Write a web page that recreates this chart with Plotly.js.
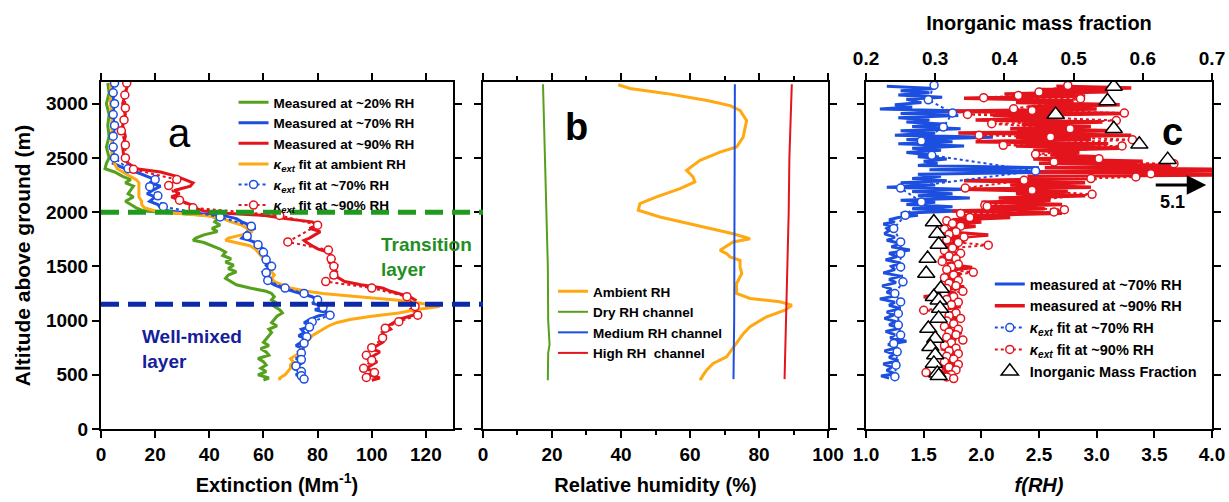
<!DOCTYPE html>
<html>
<head>
<meta charset="utf-8">
<script src="https://cdn.plot.ly/plotly-3.0.1.min.js"></script>
<style>html,body{margin:0;padding:0;background:#fff}</style>
</head>
<body>
<div id="chart" style="width:1229px;height:502px"></div>
<script>
// ---------- Panel a: extinction profiles ----------
const altA = [3190,3100,3000,2900,2800,2700,2600,2500,2450,2400,2370,2330,2300,2270,2240,2200,2170,2140,2100,2070,2040,2010,1990,1970,1940,1910,1880,1850,1820,1790,1760,1740,1720,1690,1660,1630,1600,1570,1540,1510,1480,1450,1420,1390,1360,1330,1300,1270,1250,1220,1190,1160,1130,1100,1070,1040,1010,980,950,920,890,860,830,800,770,740,710,680,650,620,590,560,530,500,470,450];
const ext20 = [2.5,3,2,3,2.5,3,2,3,2,1.5,5,8,11,9,12,11,10,12,9,11,13,16,28,40,43,42,44,41,43,38,35,34,38,41,44,46,45,48,46,49,47,50,47,46,48,50,55,61,63,64,63,65,64,66,67,65,64,63,65,62,63,62,61,60,62,59,61,62,58,60,61,59,61,58,62,60];
const ext70 = [4.5,4,5,4,5,4.5,4,5,4.5,9,13,17,20,18,22,19,17,20,18,21,22,25,33,45,50,52,55,57,54,53,52,55,57,58,60,59,61,60,62,61,62,60,62,61,62,64,67,71,74,78,80,78,83,79,84,80,77,75,78,74,75,73,76,74,72,75,73,74,72,75,73,71,74,72,76,74];
const ext90 = [10,9,8,9,8,9,8,8.5,10,13,22,28,31,34,33,27,29,26,30,33,34,38,46,60,68,78,80,77,81,79,77,75,76,78,80,84,85,86,84,87,86,87,86,88,90,96,104,107,110,114,116,115,117,114,118,114,110,108,106,107,104,105,103,104,102,100,103,101,99,102,100,98,101,99,103,100];
const extAmb = [3.5,3.5,3.5,4,4,4,4,4,5,6,8,11,13,14,14,14,14,14,15,15,16,20,28,38,45,48,52,54,56,52,47,46,50,55,57,58,59,60,62,62,63,63,64,63,64,67,70,76,82,95,109,118,125,116,110,100,92,87,84,82,80,78,77,76,75,74,74,72,70,71,70,70,69,68,66,66];
const fitAltA70 = [3190,3100,3000,2900,2800,2700,2600,2500,2400,2300,2235,2150,2050,1955,1870,1780,1700,1630,1560,1500,1440,1370,1300,1250,1190,1120,1050,990,940,850,790,700,640,580,530,490,460];
const fitA70 = [5,4.5,5,4.5,5,4.5,4.5,5,10,20,18,21,23,44,55.5,54,58,60,61,63,61,61.6,68,75,80,82,84.6,78,77,76,75,74,74,72,74,74,75];
const fitAltA90 = [3190,3080,2960,2850,2750,2620,2500,2395,2300,2245,2110,2040,1970,1880,1725,1650,1570,1500,1420,1360,1300,1220,1130,1050,990,930,840,750,680,635,560,520,475];
const fitA90 = [9.5,8.8,9,8.5,7.5,9,9,12,28,25,29,34,66,80,69,84,85,86,86,83,100,113,116,117,110,105,104,100,98,100,97,101,98];

// ---------- Panel b: relative humidity ----------
const altAmb = [3175,3140,3095,3030,2982,2937,2845,2692,2600,2554,2477,2385,2324,2278,2216,2140,2078,2017,1955,1878,1801,1755,1725,1648,1618,1587,1556,1495,1434,1342,1250,1204,1173,1142,1096,1035,943,881,789,666,605,543,497,451];
const rhAmb = [39.2,42.6,53,65,71.6,74.5,76.4,75.4,73.5,68.7,62.9,59,60.9,61.4,57.1,50.3,45.5,45,51.3,61.9,72.5,77.4,72.5,68.7,70.6,71.6,74.5,74.5,75,73.5,73.5,77.4,86,89.5,87.5,82.2,77.4,75.5,73.5,70.6,66.7,64.8,63.8,62.9];
const altDry = [3180,2900,2700,2400,2200,2000,1800,1500,1000,850,780,700,450];
const rhDry = [17.4,17.6,17.8,18.0,18.2,18.4,18.6,18.8,18.9,19.3,19.3,18.9,18.8];
const altMed = [3180,2000,1000,460];
const rhMed = [73.0,73.0,72.8,72.6];
const altHigh = [3180,3000,2800,2500,2000,1600,1200,800,460];
const rhHigh = [89.5,89.3,89.0,88.8,88.6,88.3,88.0,87.8,87.4];

// ---------- Panel c: f(RH) ----------
const altC70 = [3160,3140,3120,3100,3080,3060,3040,3010,2990,2970,2950,2930,2910,2890,2870,2850,2830,2810,2790,2770,2750,2730,2710,2690,2670,2650,2630,2610,2590,2570,2550,2530,2510,2490,2470,2450,2430,2410,2390,2370,2350,2330,2310,2290,2270,2250,2230,2210,2190,2170,2150,2130,2110,2090,2070,2050,2030,2010,1990,1970,1950,1930,1910,1890,1870,1850,1830,1800,1770,1740,1710,1680,1650,1620,1590,1560,1530,1500,1470,1440,1410,1380,1350,1320,1290,1260,1230,1200,1170,1140,1110,1080,1050,1020,990,960,930,900,870,840,810,780,750,720,690,660,630,600,570,540,510,490,470];
const fRH70 = [1.18,1.60,1.30,1.55,1.28,1.66,1.35,1.48,1.25,1.40,1.12,1.95,1.30,1.80,1.28,1.55,1.35,1.70,1.40,1.82,1.30,1.60,1.25,2.10,1.35,1.75,1.28,1.85,1.40,1.65,1.35,1.55,1.45,1.70,1.50,1.62,1.45,2.50,1.55,2.74,1.45,1.65,1.40,1.70,1.30,1.60,1.18,1.85,1.40,1.75,1.45,1.90,1.30,1.60,1.35,1.75,1.40,1.80,1.30,1.45,1.28,1.20,1.25,1.15,1.22,1.18,1.20,1.16,1.25,1.18,1.30,1.22,1.38,1.20,1.27,1.17,1.30,1.22,1.25,1.15,1.30,1.20,1.26,1.14,1.22,1.18,1.27,1.12,1.25,1.20,1.30,1.18,1.24,1.16,1.26,1.20,1.30,1.17,1.25,1.21,1.35,1.19,1.27,1.16,1.24,1.20,1.28,1.15,1.22,1.18,1.25,1.13,1.20];
const altC90 = [3160,3145,3130,3110,3090,3070,3050,3030,3010,2990,2970,2950,2930,2910,2890,2870,2850,2830,2810,2790,2770,2750,2730,2710,2690,2670,2650,2630,2610,2590,2570,2550,2530,2510,2490,2470,2450,2430,2410,2390,2370,2350,2330,2310,2290,2270,2250,2230,2210,2190,2170,2150,2130,2110,2090,2070,2050,2030,2010,1990,1970,1950,1930,1910,1890,1870,1850,1820,1790,1760,1730,1700,1670,1640,1610,1580,1550,1520,1490,1460,1430,1400,1370,1340,1310,1280,1250,1220,1190,1160,1130,1100,1070,1040,1010,980,950,920,890,860,830,800,770,740,710,680,650,620,590,560,530,500,480,460];
const fRH90 = [2.65,3.30,2.50,3.10,2.20,2.90,1.85,2.80,2.30,3.20,2.40,3.00,1.70,3.25,2.10,2.70,1.95,3.05,2.35,2.95,2.25,3.15,1.80,3.30,2.30,2.95,1.95,3.10,2.30,3.20,2.45,2.85,2.60,3.00,2.45,3.40,2.50,3.67,2.55,4.60,2.50,5.10,2.40,3.00,1.85,2.90,2.25,2.95,1.85,2.75,2.30,2.90,2.15,2.60,2.00,2.70,2.05,2.55,1.75,2.70,1.85,2.25,1.75,2.00,1.70,1.95,1.75,1.68,2.06,1.70,1.85,1.66,1.80,1.68,1.75,1.64,1.78,1.70,1.92,1.68,1.82,1.65,1.76,1.70,1.85,1.66,1.78,1.50,1.73,1.68,1.82,1.65,1.76,1.70,1.80,1.66,1.75,1.68,1.83,1.67,1.78,1.70,1.75,1.65,1.80,1.68,1.76,1.70,1.82,1.66,1.74,1.55,1.72,1.68];
const fitAltC70 = [3170,3036,2915,2784,2655,2524,2380,2222,2094,1971,1848,1725,1618,1495,1357,1249,1172,1065,958,866,789,712,589,482];
const fitC70 = [1.59,1.54,1.75,1.67,1.48,1.57,2.47,1.30,1.48,1.34,1.24,1.30,1.30,1.30,1.32,1.25,1.30,1.28,1.28,1.30,1.24,1.27,1.26,1.25];
const fitAltC90 = [3168,3107,3076,3055,3046,2953,2938,2913,2901,2845,2815,2769,2708,2693,2668,2616,2610,2533,2493,2462,2447,2355,2324,2309,2293,2222,2201,2164,2063,2054,2023,2002,1987,1950,1920,1895,1870,1845,1820,1795,1770,1745,1720,1695,1670,1645,1620,1595,1570,1545,1520,1495,1470,1445,1420,1395,1370,1345,1320,1295,1270,1245,1220,1195,1170,1145,1120,1095,1070,1045,1020,995,970,945,920,895,870,845,820,795,770,745,720,695,670,645,620,595,570,545,520,500,480,465];
const fitC90 = [2.75,2.50,2.32,2.02,2.86,2.28,2.44,3.24,1.88,3.17,2.09,2.77,1.98,2.60,3.31,2.19,3.22,2.47,3.02,2.63,3.67,3.47,3.34,2.95,2.37,1.86,2.44,2.96,2.03,2.05,2.72,2.63,1.82,1.90,1.70,1.75,1.82,1.68,1.78,1.72,1.85,1.70,1.80,2.06,1.75,1.68,1.82,1.72,1.78,1.66,1.80,1.74,1.70,1.93,1.76,1.68,1.80,1.72,1.78,1.70,1.84,1.68,1.76,1.70,1.80,1.74,1.68,1.50,1.78,1.72,1.82,1.70,1.76,1.68,1.80,1.72,1.78,1.70,1.84,1.74,1.68,1.78,1.72,1.80,1.70,1.76,1.68,1.80,1.72,1.78,1.52,1.74,1.70,1.76];
const imfAlt = [3159,3024,2901,2769,2625,2484,1909,1802,1701,1572,1434,1296,1219,1188,1112,1020,927,835,758,682,605,513,490];
const imf = [0.558,0.549,0.474,0.558,0.595,0.636,0.298,0.303,0.305,0.289,0.287,0.308,0.298,0.305,0.307,0.305,0.290,0.300,0.293,0.300,0.298,0.303,0.305];

const xTicksA = [0,20,40,60,80,100,120];
const xTicksB = [0,20,40,60,80,100];
const xTicksC = [1.0,1.5,2.0,2.5,3.0,3.5,4.0];
const xTicksTop = [0.2,0.3,0.4,0.5,0.6,0.7];
const yTicks = [0,500,1000,1500,2000,2500,3000];

const FAM = 'Liberation Sans, Arial, sans-serif';
const GREEN = '#55a01c', BLUE = '#1c4ee0', RED = '#e3141c', ORANGE = '#ffa812';

function line(x, y, color, name, xa, ya, lg, w) {
  return {x:x, y:y, type:'scatter', mode:'lines', name:name, xaxis:xa, yaxis:ya, legend:lg,
          line:{color:color, width:w||3}};
}
function fit(x, y, color, name, xa, ya, lg) {
  return {x:x, y:y, type:'scatter', mode:'lines+markers', name:name, xaxis:xa, yaxis:ya, legend:lg,
          line:{color:color, width:2, dash:'dot'},
          marker:{symbol:'circle', size:8, color:'white', line:{color:color, width:1.5}}};
}
const kx = '<i>κ<sub>ext</sub></i>';
const traces = [
  line(ext20, altA, GREEN, '<b>Measured at ~20% RH</b>', 'x', 'y', 'legend'),
  line(ext70, altA, BLUE, '<b>Measured at ~70% RH</b>', 'x', 'y', 'legend'),
  line(ext90, altA, RED, '<b>Measured at ~90% RH</b>', 'x', 'y', 'legend'),
  line(extAmb, altA, ORANGE, '<b>'+kx+' fit at ambient RH</b>', 'x', 'y', 'legend', 3),
  fit(fitA70, fitAltA70, BLUE, '<b>'+kx+' fit at ~70% RH</b>', 'x', 'y', 'legend'),
  fit(fitA90, fitAltA90, RED, '<b>'+kx+' fit at ~90% RH</b>', 'x', 'y', 'legend'),

  line(rhAmb, altAmb, ORANGE, '<b>Ambient RH</b>', 'x2', 'y2', 'legend2', 3),
  line(rhDry, altDry, GREEN, '<b>Dry RH channel</b>', 'x2', 'y2', 'legend2', 2),
  line(rhMed, altMed, BLUE, '<b>Medium RH channel</b>', 'x2', 'y2', 'legend2', 2),
  line(rhHigh, altHigh, RED, '<b>High RH  channel</b>', 'x2', 'y2', 'legend2', 2),

  line(fRH70, altC70, BLUE, '<b>measured at ~70% RH</b>', 'x3', 'y3', 'legend3', 3),
  line(fRH90, altC90, RED, '<b>measured at ~90% RH</b>', 'x3', 'y3', 'legend3', 3.5),
  fit(fitC70, fitAltC70, BLUE, '<b>'+kx+' fit at ~70% RH</b>', 'x3', 'y3', 'legend3'),
  fit(fitC90, fitAltC90, RED, '<b>'+kx+' fit at ~90% RH</b>', 'x3', 'y3', 'legend3'),
  {x:imf, y:imfAlt, type:'scatter', mode:'markers', name:'<b>Inorganic Mass Fraction</b>', xaxis:'x4', yaxis:'y3', legend:'legend3',
   marker:{symbol:'triangle-up', size:15, color:'white', line:{color:'black', width:1.5}}}
];

const tf = {family:FAM, size:19, weight:'bold', color:'black'};
const titleFont = {family:FAM, size:20, weight:'bold', color:'black'};
const ax = {showline:true, linewidth:2, linecolor:'black', ticks:'outside', ticklen:7, tickwidth:2, tickcolor:'black',
            mirror:'ticks', showgrid:false, zeroline:false, tickfont:tf};
const lgBase = {bgcolor:'rgba(0,0,0,0)', borderwidth:0, xanchor:'left', yanchor:'top', itemwidth:30, tracegroupgap:0};
const lgFontA = {family:FAM, size:13.5, weight:'bold', color:'black'};
const lgFontC = {family:FAM, size:14.5, weight:'bold', color:'black'};

const layout = {
  width:1229, height:502, paper_bgcolor:'white', plot_bgcolor:'white',
  margin:{l:101, r:17, t:82, b:73},
  showlegend:true,
  xaxis: Object.assign({}, ax, {domain:[0,0.3168], range:[0,130], tickvals:xTicksA, anchor:'y',
          title:{text:'Extinction (Mm<sup>-1</sup>)', font:titleFont, standoff:14}}),
  yaxis: Object.assign({}, ax, {domain:[0,1], range:[0,3200], tickvals:yTicks, anchor:'x',
          title:{text:'Altitude above ground (m)', font:{family:FAM, size:21, weight:'bold', color:'black'}, standoff:10}}),
  xaxis2: Object.assign({}, ax, {domain:[0.3438,0.6544], range:[0,100], tickvals:xTicksB, anchor:'y2',
          minor:{tickvals:[10,30,50,70,90], ticks:'outside', ticklen:4, tickwidth:2, tickcolor:'black'},
          title:{text:'Relative humidity (%)', font:titleFont, standoff:14}}),
  yaxis2: Object.assign({}, ax, {domain:[0,1], range:[0,3200], tickvals:yTicks, anchor:'x2', showticklabels:false}),
  xaxis3: Object.assign({}, ax, {domain:[0.6886,1], range:[1,4], tickvals:xTicksC, tickformat:'.1f', anchor:'y3', mirror:false,
          title:{text:'<i>f(RH)</i>', font:titleFont, standoff:14}}),
  xaxis4: Object.assign({}, ax, {overlaying:'x3', side:'top', range:[0.2,0.7], tickvals:xTicksTop, tickformat:'.1f', anchor:'y3', mirror:false,
          title:{text:'Inorganic mass fraction', font:titleFont, standoff:12}}),
  yaxis3: Object.assign({}, ax, {domain:[0,1], range:[0,3200], tickvals:yTicks, anchor:'x3', showticklabels:false}),
  legend: Object.assign({}, lgBase, {x:0.1193, y:0.9856, font:lgFontA}),
  legend2: Object.assign({}, lgBase, {x:0.4068, y:0.441, font:lgFontA}),
  legend3: Object.assign({}, lgBase, {x:0.80, y:0.464, font:lgFontC}),
  shapes:[
    {type:'line', xref:'paper', yref:'y', x0:0, x1:0.3438, y0:2000, y1:2000, line:{color:'#1f9a1f', width:5, dash:'18px,9px'}},
    {type:'line', xref:'paper', yref:'y', x0:0, x1:0.3438, y0:1150, y1:1150, line:{color:'#0c2aa8', width:5, dash:'18px,9px'}}
  ],
  annotations:[
    {xref:'x', yref:'y', x:29, y:2726, text:'a', showarrow:false, font:{family:FAM, size:40, color:'black'}},
    {xref:'x2', yref:'y2', x:27, y:2784, text:'<b>b</b>', showarrow:false, font:{family:FAM, size:38, color:'black'}},
    {xref:'x3', yref:'y3', x:3.66, y:2738, text:'<b>c</b>', showarrow:false, font:{family:FAM, size:38, color:'black'}},
    {xref:'paper', yref:'paper', x:0.2502, y:0.4957, xanchor:'left', yanchor:'middle', align:'left', showarrow:false,
     text:'<b>Transition<br>layer</b>', font:{family:FAM, size:19, color:'#1f8f1f'}},
    {xref:'paper', yref:'paper', x:0.0351, y:0.2305, xanchor:'left', yanchor:'middle', align:'left', showarrow:false,
     text:'<b>Well-mixed<br>layer</b>', font:{family:FAM, size:19, color:'#14209a'}},
    {xref:'x3', yref:'y3', x:3.95, y:2250, ax:-52, ay:0, text:'', showarrow:true, arrowhead:2, arrowsize:1.3, arrowwidth:3, arrowcolor:'black'},
    {xref:'x3', yref:'y3', x:3.66, y:2093, text:'<b>5.1</b>', showarrow:false, font:{family:FAM, size:18, color:'black'}}
  ]
};

Plotly.newPlot('chart', traces, layout, {displayModeBar:false, staticPlot:true});
</script>
</body>
</html>
